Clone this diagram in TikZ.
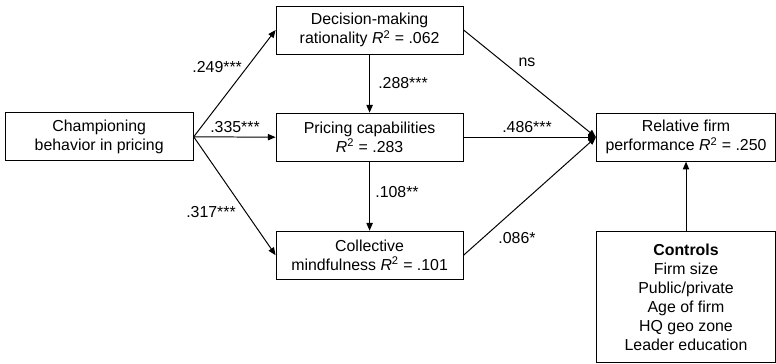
\documentclass[tikz,border=0pt]{standalone}
\usepackage{fontspec}
\setmainfont{Liberation Sans}
\usetikzlibrary{arrows.meta}
\tikzset{
  box/.style={shape=rectangle,draw=black,line width=0.7pt,align=center,inner sep=2pt,minimum height=1.2cm},
  path/.style={draw=black,line width=0.7pt,-{Triangle[length=5.5pt,width=4.5pt]}},
  coef/.style={inner sep=0pt}
}
\newcommand{\Rsq}{{\itshape R}\textsuperscript{2}}
\begin{document}
\begin{tikzpicture}[font=\fontsize{11.3}{13.5}\selectfont]
\useasboundingbox (0,0) rectangle (19.4,-9.1);
\node (cb) at (2.48,-3.42) [box,minimum width=4.7cm] {Championing\\behavior in pricing};
\node (dm) at (9.24,-0.75) [box,minimum width=4.675cm] {Decision-making\\rationality \Rsq{} = .062};
\node (pc) at (9.24,-3.43) [box,minimum width=4.675cm] {Pricing capabilities\\\Rsq{} = .283};
\node (cm) at (9.24,-6.38) [box,minimum width=4.675cm] {Collective\\mindfulness \Rsq{} = .101};
\node (rp) at (17.15,-3.43) [box,minimum width=4.48cm] {Relative firm\\performance \Rsq{} = .250};
\node (ct) at (17.15,-7.43) [box,minimum width=4.48cm,minimum height=3.275cm] {\textbf{Controls}\\Firm size\\Public/private\\Age of firm\\HQ geo zone\\Leader education};
\draw[path] (cb.east) -- (dm.west);
\draw[path] (cb.east) -- (pc.west);
\draw[path] (cb.east) -- (cm.west);
\draw[path] (dm.south) -- (pc.north);
\draw[path] (pc.south) -- (cm.north);
\draw[path] (dm.east) -- (rp.west);
\draw[path] (pc.east) -- (rp.west);
\draw[path] (cm.east) -- (rp.west);
\draw[path] (ct.north) -- (rp.south);
\node (c249) at (5.43,-1.675) [coef] {.249***};
\node (c335) at (5.875,-3.175) [coef] {.335***};
\node (c317) at (5.275,-5.3) [coef] {.317***};
\node (c288) at (10.075,-2.075) [coef] {.288***};
\node (c108) at (9.925,-4.8) [coef] {.108**};
\node (cns) at (13.175,-1.55) [coef] {ns};
\node (c486) at (13.175,-3.175) [coef] {.486***};
\node (c086) at (12.925,-5.95) [coef] {.086*};
\end{tikzpicture}
\end{document}
